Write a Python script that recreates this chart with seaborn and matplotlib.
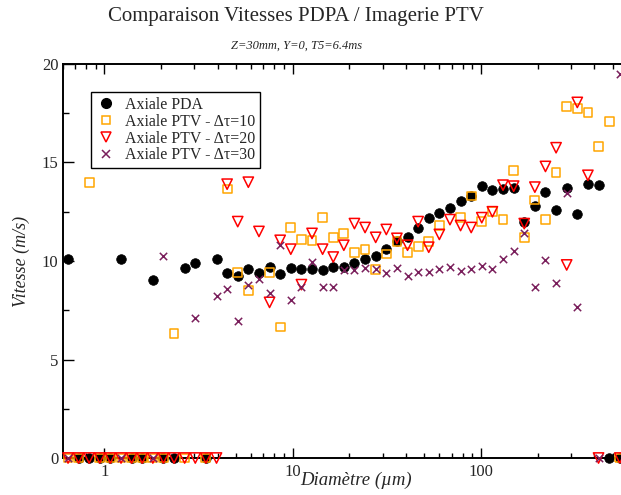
import numpy as np
import pandas as pd
import matplotlib
matplotlib.use("Agg")
import matplotlib.pyplot as plt
import seaborn as sns
from matplotlib.lines import Line2D
from matplotlib.ticker import LogLocator, MultipleLocator, FixedLocator, FixedFormatter, NullFormatter

# Diameter classes (µm), log-spaced bins
diametre = [0.642, 0.730, 0.831, 0.946, 1.077, 1.227, 1.396, 1.590, 1.810, 2.061,
            2.346, 2.671, 3.041, 3.462, 3.942, 4.488, 5.110, 5.817, 6.623, 7.540,
            8.585, 9.774, 11.13, 12.67, 14.42, 16.42, 18.69, 21.28, 24.23, 27.59,
            31.41, 35.76, 40.71, 46.35, 52.77, 60.08, 68.40, 77.87, 88.66, 100.9,
            114.9, 130.8, 149.0, 169.6, 193.1, 219.8, 250.3, 284.9, 324.4, 369.3,
            420.5, 478.7, 545.0]

nan = np.nan

# Axial velocity (m/s) per diameter class
vit_pda = [10.1, 0, 0, 0, 0, 10.1, 0, 0, 9.05, 0,
           0, 9.65, 9.9, 0, 10.1, 9.4, 9.25, 9.6, 9.4, 9.7,
           9.35, 9.65, 9.6, 9.6, 9.55, 9.7, 9.7, 9.9, 10.1, 10.25,
           10.6, 11.0, 11.2, 11.7, 12.2, 12.45, 12.7, 13.05, 13.3, 13.8,
           13.6, 13.65, 13.7, 12.0, 12.8, 13.5, 12.6, 13.7, 12.4, 13.9,
           13.85, 0, 0]

vit_ptv10 = [0, 0, 14.0, 0, 0, 0, 0, 0, 0, 0,
             6.3, 0, nan, 0, nan, 13.65, 9.4, 8.5, nan, 9.4,
             6.65, 11.7, 11.1, 11.05, 12.2, 11.2, 11.4, 10.45, 10.6, 9.55,
             10.35, 11.0, 10.45, 10.75, 11.0, 11.8, nan, 12.2, 13.3, 12.0,
             12.5, 12.1, 14.6, 11.2, 13.1, 12.1, 14.5, 17.85, 17.75, 17.55,
             15.8, 17.1, 0]

vit_ptv20 = [0, 0, 0, 0, 0, 0, 0, 0, 0, 0,
             0, 0, 0, 0, 0, 13.9, 12.0, 14.0, 11.5, 7.9,
             11.05, 10.6, 8.8, 11.4, 10.6, 10.2, 10.8, 11.9, 11.7, 11.2,
             11.6, 11.15, 10.8, 12.0, 10.7, 11.35, 12.1, 11.8, 11.7, 12.2,
             12.5, 13.85, 13.8, 11.9, 13.75, 14.8, 15.75, 9.8, 18.05, 14.35,
             0, nan, 0]

vit_ptv30 = [0, nan, nan, nan, nan, 0, nan, nan, 0, 10.25,
             nan, nan, 7.1, nan, 8.2, 8.6, 6.95, 8.8, 9.1, 8.4,
             10.8, 8.0, 8.7, 9.95, 8.7, 8.7, 9.55, 9.55, 9.65, 9.6,
             9.4, 9.65, 9.25, 9.45, 9.45, 9.6, 9.7, 9.5, 9.6, 9.75,
             9.6, 10.1, 10.5, 11.4, 8.7, 10.05, 8.9, 13.45, 7.65, nan,
             0, nan, 19.5]

labels = ["Axiale PDA", "Axiale PTV - Δτ=10", "Axiale PTV - Δτ=20", "Axiale PTV - Δτ=30"]
couleurs = ["black", "#FFA500", "#FF0000", "#7A1F5C"]

sns.set_theme(style="ticks")
plt.rcParams["font.family"] = ["Liberation Serif", "DejaVu Serif"]

fig = plt.figure(figsize=(6.21, 4.95), dpi=100)
ax = fig.add_axes([62.5 / 621, 37 / 495, 606.9 / 621, 394 / 495])

styles = [
    dict(marker="o", s=48, color=couleurs[0], edgecolor=couleurs[0], linewidth=0.5),
    dict(marker="s", s=40, color=couleurs[1], facecolor="none", edgecolor=couleurs[1], linewidth=1.1),
    dict(marker="v", s=55, color=couleurs[2], facecolor="none", edgecolor=couleurs[2], linewidth=1.1),
    dict(marker="x", s=28, color=couleurs[3], linewidth=1.1),
]
for lab, vals, st in zip(labels, [vit_pda, vit_ptv10, vit_ptv20, vit_ptv30], styles):
    df = pd.DataFrame({"diametre": diametre, "vitesse": vals}).dropna()
    sns.scatterplot(data=df, x="diametre", y="vitesse", ax=ax, clip_on=False,
                    zorder=3, legend=False, **st)

ax.set_xscale("log")
ax.set_xlim(0.6, 1000)
ax.set_ylim(0, 20)

ax.xaxis.set_major_locator(FixedLocator([1, 10, 100]))
ax.xaxis.set_major_formatter(FixedFormatter(["1", "10", "100"]))
ax.xaxis.set_minor_locator(LogLocator(base=10, subs=np.arange(2, 10)))
ax.xaxis.set_minor_formatter(NullFormatter())
ax.yaxis.set_major_locator(MultipleLocator(5))
ax.yaxis.set_minor_locator(MultipleLocator(2.5))

ax.tick_params(axis="both", which="both", direction="in", top=True, right=True,
               color="black", labelsize=12, width=1.0)
ax.tick_params(axis="x", which="major", length=7, pad=4)
ax.tick_params(axis="x", which="minor", length=3.5)
ax.tick_params(axis="y", which="major", length=8, pad=3)
ax.tick_params(axis="y", which="minor", length=4.3)
for sp in ax.spines.values():
    sp.set_linewidth(1.4)
    sp.set_color("black")

ax.set_xlabel("Diamètre (µm)", fontsize=13.5, style="italic")
ax.xaxis.set_label_coords(0.4836, -0.036)
ax.set_ylabel("Vitesse (m/s)", fontsize=13, style="italic")
ax.yaxis.set_label_coords(-0.0535, 0.5)

fig.text(296 / 621, 1 - 17 / 495, "Comparaison Vitesses PDPA / Imagerie PTV",
         ha="center", va="center", fontsize=15)
fig.text(297 / 621, 1 - 46 / 495, "Z=30mm, Y=0, T5=6.4ms",
         ha="center", va="center", fontsize=9, style="italic")

handles = [
    Line2D([], [], linestyle="none", marker="o", markersize=7, color=couleurs[0]),
    Line2D([], [], linestyle="none", marker="s", markersize=6.3, markerfacecolor="none",
           markeredgecolor=couleurs[1], markeredgewidth=1.1),
    Line2D([], [], linestyle="none", marker="v", markersize=7.2, markerfacecolor="none",
           markeredgecolor=couleurs[2], markeredgewidth=1.1),
    Line2D([], [], linestyle="none", marker="x", markersize=5.3, color=couleurs[3],
           markeredgewidth=1.1),
]
leg = ax.legend(handles, labels, loc="upper left", bbox_to_anchor=(0.047, 0.929),
                borderaxespad=0, fontsize=11.4, frameon=True, fancybox=False,
                edgecolor="black", framealpha=1, labelspacing=0.05,
                handlelength=1.2, handletextpad=0.6, borderpad=0.32)
leg.get_frame().set_linewidth(1.0)

fig.savefig("out.png", dpi=100)
